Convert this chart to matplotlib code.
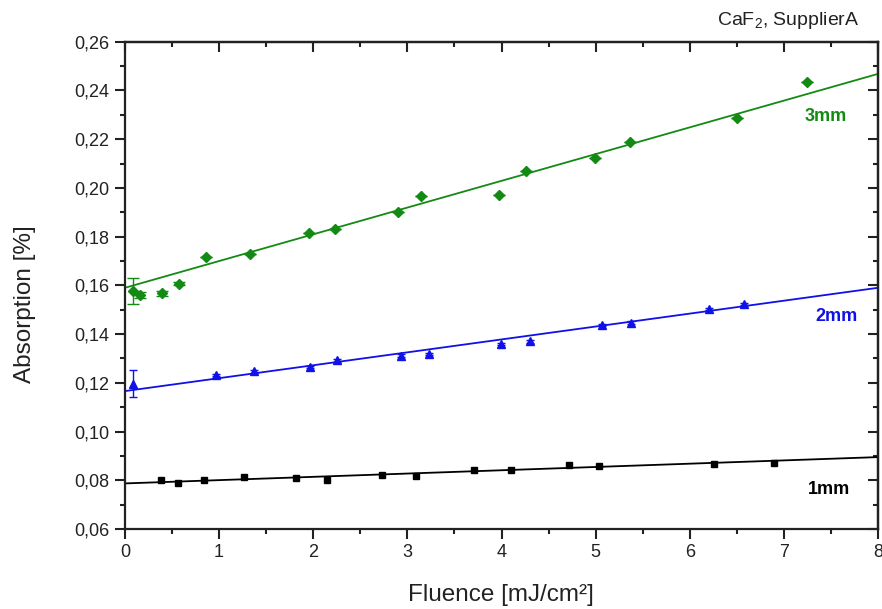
import matplotlib
matplotlib.use("Agg")
import matplotlib.pyplot as plt
from matplotlib.ticker import MultipleLocator

plt.rcParams['font.family'] = ['Liberation Sans', 'DejaVu Sans']
plt.rcParams['mathtext.fontset'] = 'custom'
plt.rcParams['mathtext.rm'] = 'Liberation Sans'
plt.rcParams['mathtext.it'] = 'Liberation Sans:italic'

# 3mm sample
x_3mm = [0.08, 0.16, 0.39, 0.57, 0.86, 1.33, 1.96, 2.23, 2.90, 3.15, 3.97, 4.26, 4.99, 5.37, 6.50, 7.25]
y_3mm = [0.1577, 0.1560, 0.1568, 0.1606, 0.1718, 0.1727, 0.1816, 0.1832, 0.1900, 0.1966, 0.1972, 0.2070, 0.2122, 0.2190, 0.2288, 0.2436]
e_3mm = [0.0052, 0.0012, 0.0010, 0.0006, 0, 0, 0, 0, 0, 0, 0, 0, 0, 0, 0, 0]

# 2mm sample
x_2mm = [0.08, 0.97, 1.37, 1.97, 2.25, 2.93, 3.23, 3.99, 4.30, 5.07, 5.38, 6.20, 6.58]
y_2mm = [0.1197, 0.1233, 0.1247, 0.1266, 0.1292, 0.1312, 0.1318, 0.1360, 0.1370, 0.1437, 0.1447, 0.1503, 0.1524]
e_2mm = [0.0057, 0.0005, 0.0005, 0.0005, 0.0005, 0.0005, 0.0005, 0.0005, 0.0005, 0.0005, 0.0005, 0.0005, 0.0005]

# 1mm sample
x_1mm = [0.38, 0.56, 0.84, 1.26, 1.82, 2.15, 2.73, 3.09, 3.71, 4.10, 4.72, 5.04, 6.26, 6.90]
y_1mm = [0.0799, 0.0790, 0.0803, 0.0814, 0.0811, 0.0799, 0.0820, 0.0817, 0.0842, 0.0843, 0.0862, 0.0857, 0.0865, 0.0872]

# linear fits (end points)
fit_x = [0, 8]
fit_3mm = [0.1590, 0.2468]
fit_2mm = [0.1166, 0.1590]
fit_1mm = [0.0787, 0.0895]

xticks = [0, 1, 2, 3, 4, 5, 6, 7, 8]
yticks = [0.06, 0.08, 0.10, 0.12, 0.14, 0.16, 0.18, 0.20, 0.22, 0.24, 0.26]
ytick_labels = ['0,06', '0,08', '0,10', '0,12', '0,14', '0,16', '0,18', '0,20', '0,22', '0,24', '0,26']

green = '#138a13'
blue = '#1010e8'
dark = '#222222'

fig = plt.figure(figsize=(8.82, 6.09), dpi=100)
ax = fig.add_axes([0.1417, 0.1314, 0.8538, 0.8001])

ax.plot(fit_x, fit_3mm, color=green, lw=1.3)
ax.plot(fit_x, fit_2mm, color=blue, lw=1.3)
ax.plot(fit_x, fit_1mm, color='black', lw=1.3)

ax.errorbar(x_3mm, y_3mm, yerr=e_3mm, fmt='D', color=green, ms=5.5, capsize=4, elinewidth=1, capthick=1)
ax.errorbar(x_2mm, y_2mm, yerr=e_2mm, fmt='^', color=blue, ms=6, capsize=3, elinewidth=1, capthick=1)
ax.plot(x_1mm, y_1mm, 's', color='black', ms=5)

ax.set_xlim(0, 8)
ax.set_ylim(0.06, 0.26)
ax.set_xticks(xticks)
ax.set_yticks(yticks)
ax.set_yticklabels(ytick_labels)
ax.xaxis.set_minor_locator(MultipleLocator(0.5))
ax.yaxis.set_minor_locator(MultipleLocator(0.01))

ax.tick_params(which='major', direction='out', length=7, width=1.5, labelsize=13, pad=4, color=dark, labelcolor=dark)
ax.tick_params(which='minor', direction='out', length=3.5, width=1.5, color=dark)
for s in ax.spines.values():
    s.set_linewidth(1.6)
    s.set_color(dark)

# mirrored ticks on top and right pointing inward
top = ax.secondary_xaxis('top')
top.set_xticks(xticks)
top.xaxis.set_minor_locator(MultipleLocator(0.5))
top.tick_params(which='major', direction='in', length=7, width=1.5, labeltop=False, color=dark)
top.tick_params(which='minor', direction='in', length=3.5, width=1.5, color=dark)
top.spines['top'].set_linewidth(1.6)
right = ax.secondary_yaxis('right')
right.set_yticks(yticks)
right.yaxis.set_minor_locator(MultipleLocator(0.01))
right.tick_params(which='major', direction='in', length=7, width=1.5, labelright=False, color=dark)
right.tick_params(which='minor', direction='in', length=3.5, width=1.5, color=dark)
right.spines['right'].set_linewidth(1.6)

ax.set_xlabel('Fluence [mJ/cm²]', fontsize=17.5, color=dark)
ax.set_ylabel('Absorption [%]', fontsize=17.5, color=dark)
ax.xaxis.set_label_coords(0.4995, -0.113)
ax.yaxis.set_label_coords(-0.118, 0.462)

ax.text(7.22, 0.2295, '3mm', color=green, fontsize=13, fontweight='bold', va='center')
ax.text(7.33, 0.1473, '2mm', color=blue, fontsize=13, fontweight='bold', va='center')
ax.text(7.26, 0.0763, '1mm', color='black', fontsize=13, fontweight='bold', va='center')

fig.text(0.975, 0.967, 'CaF$_2$, SupplierA', ha='right', va='center', fontsize=14, color=dark)

fig.savefig('out.png', dpi=100)
